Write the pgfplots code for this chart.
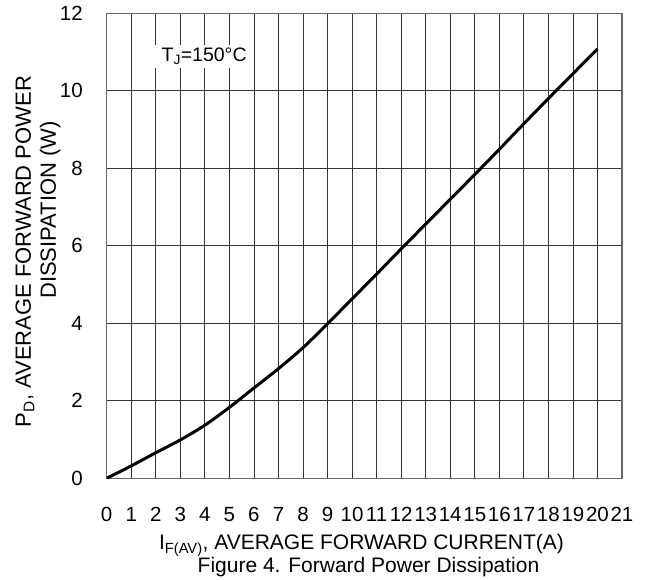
\documentclass[border=0pt]{standalone}
\usepackage{pgfplots}
\pgfplotsset{compat=1.18}
\usepackage{fontspec}
\setmainfont{Liberation Sans}
\begin{document}
\begin{tikzpicture}
\path[use as bounding box] (-106.7pt,-101.7pt) rectangle (544.3pt,478.3pt);
\begin{axis}[
    at={(0,0)}, anchor=south west,
    scale only axis,
    width=515.3pt, height=465pt,
    xmin=0, xmax=21,
    ymin=0, ymax=12,
    xtick={0,1,...,21},
    ytick={0,2,...,12},
    grid=major,
    major grid style={black!80, line width=0.8pt},
    axis line style={black!60, line width=1.2pt},
    major tick length=0pt,
    /pgf/number format/assume math mode=true,
    xticklabel style={font=\fontsize{20.5}{24}\selectfont, anchor=base, inner sep=0pt, yshift=-43.7pt},
    yticklabel style={font=\fontsize{20.5}{24}\selectfont, anchor=east, inner sep=0pt, xshift=-23.7pt},
]
\addplot[black, line width=3pt, smooth] coordinates {
    (0,0)(1,0.32)(2,0.66)(3,0.99)(4,1.37)(5,1.83)(6,2.33)(7,2.83)
    (8,3.37)(9,3.99)(10,4.63)(11,5.27)(12,5.92)(13,6.56)(14,7.20)
    (15,7.84)(16,8.49)(17,9.15)(18,9.80)(19,10.44)(20,11.08)
};
\node[fill=white, inner xsep=7pt, inner ysep=3pt, anchor=base,
      font=\fontsize{19.5}{23}\selectfont] at (axis cs:3.97,10.75) {T\textsubscript{J}=150°C};
\end{axis}
\node[anchor=base, font=\fontsize{21}{25}\selectfont] at (254.8pt,-71.7pt)
    {I\textsubscript{F(AV)}, AVERAGE FORWARD CURRENT(A)};
\node[anchor=base, font=\fontsize{21}{25}\selectfont] at (261.8pt,-94.7pt)
    {Figure 4. Forward Power Dissipation};
\node[rotate=90, anchor=base, font=\fontsize{22}{26}\selectfont] at (-75.7pt,226.8pt)
    {P\textsubscript{D}, AVERAGE FORWARD POWER};
\node[rotate=90, anchor=base, font=\fontsize{22}{26}\selectfont] at (-50.7pt,268.3pt)
    {DISSIPATION (W)};
\end{tikzpicture}
\end{document}
